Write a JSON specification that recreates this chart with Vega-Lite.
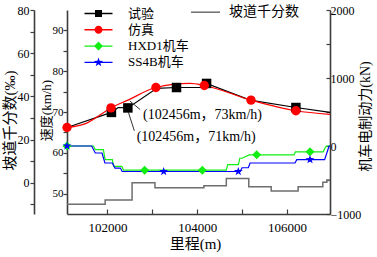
{
  "$schema": "https://vega.github.io/schema/vega-lite/v6.json",
  "width": 263,
  "height": 204,
  "autosize": "none",
  "padding": {"left": 67, "top": 10, "right": 47, "bottom": 43},
  "config": {
    "font": "Liberation Serif, Noto Sans CJK SC",
    "view": {"stroke": null},
    "axis": {
      "grid": false,
      "labelFont": "Liberation Serif, Noto Sans CJK SC",
      "labelFontSize": 12,
      "labelColor": "#000000",
      "titleFont": "Liberation Serif, Noto Sans CJK SC",
      "titleFontWeight": "normal",
      "titleColor": "#000000",
      "titleFontSize": 14,
      "domainColor": "#3c3c3c",
      "domainWidth": 1.6,
      "tickColor": "#3c3c3c",
      "tickWidth": 1.2
    },
    "legend": {
      "labelFont": "Liberation Serif, Noto Sans CJK SC",
      "labelColor": "#000000"
    }
  },
  "datasets": {
    "grade": [
      {"m": 101100, "g": -10, "series": "坡道千分数"},
      {"m": 101950, "g": -8, "series": "坡道千分数"},
      {"m": 102550, "g": 0, "series": "坡道千分数"},
      {"m": 103060, "g": -2.3, "series": "坡道千分数"},
      {"m": 104150, "g": -1.4, "series": "坡道千分数"},
      {"m": 104650, "g": 2.0, "series": "坡道千分数"},
      {"m": 105150, "g": -1.9, "series": "坡道千分数"},
      {"m": 105650, "g": -3.9, "series": "坡道千分数"},
      {"m": 106250, "g": -1.9, "series": "坡道千分数"},
      {"m": 106800, "g": 0.2, "series": "坡道千分数"},
      {"m": 106890, "g": 1.3, "series": "坡道千分数"},
      {"m": 106960, "g": 1.3, "series": "坡道千分数"}
    ],
    "speed": [
      {"m": 101100, "v": 66.2, "series": "试验"},
      {"m": 102090, "v": 69.9, "series": "试验"},
      {"m": 102240, "v": 71.1, "series": "试验"},
      {"m": 102456, "v": 71.0, "series": "试验"},
      {"m": 103100, "v": 75.8, "series": "试验"},
      {"m": 103540, "v": 76.0, "series": "试验"},
      {"m": 104140, "v": 76.0, "series": "试验"},
      {"m": 104210, "v": 77.0, "series": "试验"},
      {"m": 105180, "v": 72.9, "series": "试验"},
      {"m": 106200, "v": 71.1, "series": "试验"},
      {"m": 106960, "v": 69.9, "series": "试验"},
      {"m": 101100, "v": 66.2, "series": "仿真"},
      {"m": 101500, "v": 67.1, "series": "仿真"},
      {"m": 102080, "v": 71.0, "series": "仿真"},
      {"m": 102456, "v": 72.9, "series": "仿真"},
      {"m": 103080, "v": 76.0, "series": "仿真"},
      {"m": 103840, "v": 77.0, "series": "仿真"},
      {"m": 104160, "v": 76.5, "series": "仿真"},
      {"m": 105200, "v": 72.9, "series": "仿真"},
      {"m": 106200, "v": 70.3, "series": "仿真"},
      {"m": 106960, "v": 69.4, "series": "仿真"}
    ],
    "speed_marks": [
      {"m": 102090, "v": 69.9, "series": "试验"},
      {"m": 102456, "v": 71.0, "series": "试验"},
      {"m": 103540, "v": 76.0, "series": "试验"},
      {"m": 104210, "v": 77.0, "series": "试验"},
      {"m": 106200, "v": 71.1, "series": "试验"},
      {"m": 101100, "v": 66.2, "series": "仿真"},
      {"m": 102080, "v": 71.0, "series": "仿真"},
      {"m": 103080, "v": 76.0, "series": "仿真"},
      {"m": 104160, "v": 76.5, "series": "仿真"},
      {"m": 105200, "v": 72.9, "series": "仿真"},
      {"m": 106200, "v": 70.3, "series": "仿真"}
    ],
    "force": [
      {"m": 101100, "f": 0, "series": "HXD1机车"},
      {"m": 101690, "f": 0, "series": "HXD1机车"},
      {"m": 101730, "f": -54, "series": "HXD1机车"},
      {"m": 101910, "f": -54, "series": "HXD1机车"},
      {"m": 101950, "f": -201, "series": "HXD1机车"},
      {"m": 102110, "f": -201, "series": "HXD1机车"},
      {"m": 102140, "f": -299, "series": "HXD1机车"},
      {"m": 102320, "f": -299, "series": "HXD1机车"},
      {"m": 102360, "f": -355, "series": "HXD1机车"},
      {"m": 104650, "f": -355, "series": "HXD1机车"},
      {"m": 104680, "f": -275, "series": "HXD1机车"},
      {"m": 104920, "f": -275, "series": "HXD1机车"},
      {"m": 104950, "f": -180, "series": "HXD1机车"},
      {"m": 105000, "f": -180, "series": "HXD1机车"},
      {"m": 105160, "f": -130, "series": "HXD1机车"},
      {"m": 106160, "f": -130, "series": "HXD1机车"},
      {"m": 106190, "f": -85, "series": "HXD1机车"},
      {"m": 106810, "f": -85, "series": "HXD1机车"},
      {"m": 106850, "f": -30, "series": "HXD1机车"},
      {"m": 106880, "f": 0, "series": "HXD1机车"},
      {"m": 106960, "f": 0, "series": "HXD1机车"},
      {"m": 101100, "f": 0, "series": "SS4B机车"},
      {"m": 101650, "f": 0, "series": "SS4B机车"},
      {"m": 101730, "f": -103, "series": "SS4B机车"},
      {"m": 101880, "f": -103, "series": "SS4B机车"},
      {"m": 101945, "f": -250, "series": "SS4B机车"},
      {"m": 102110, "f": -250, "series": "SS4B机车"},
      {"m": 102170, "f": -324, "series": "SS4B机车"},
      {"m": 102290, "f": -324, "series": "SS4B机车"},
      {"m": 102330, "f": -375, "series": "SS4B机车"},
      {"m": 104960, "f": -375, "series": "SS4B机车"},
      {"m": 105000, "f": -320, "series": "SS4B机车"},
      {"m": 105140, "f": -320, "series": "SS4B机车"},
      {"m": 105180, "f": -250, "series": "SS4B机车"},
      {"m": 106180, "f": -250, "series": "SS4B机车"},
      {"m": 106220, "f": -200, "series": "SS4B机车"},
      {"m": 106840, "f": -200, "series": "SS4B机车"},
      {"m": 106940, "f": 0, "series": "SS4B机车"},
      {"m": 106960, "f": 0, "series": "SS4B机车"}
    ],
    "force_marks": [
      {"m": 101100, "f": 0, "series": "HXD1机车"},
      {"m": 102830, "f": -355, "series": "HXD1机车"},
      {"m": 104115, "f": -355, "series": "HXD1机车"},
      {"m": 105326, "f": -130, "series": "HXD1机车"},
      {"m": 106514, "f": -85, "series": "HXD1机车"},
      {"m": 101100, "f": 0, "series": "SS4B机车"},
      {"m": 103254, "f": -375, "series": "SS4B机车"},
      {"m": 104917, "f": -375, "series": "SS4B机车"},
      {"m": 106514, "f": -200, "series": "SS4B机车"}
    ],
    "leaders": [
      {"m": 102500, "v": 72.7, "m2": 102730, "v2": 70.6},
      {"m": 102466, "v": 70.0, "m2": 102600, "v2": 65.4}
    ],
    "notes": [
      {"m": 102793, "v": 69.3, "label": "(102456m，73km/h)"},
      {"m": 102653, "v": 63.9, "label": "(102456m，71km/h)"}
    ]
  },
  "encoding": {
    "x": {
      "field": "m",
      "type": "quantitative",
      "scale": {"domain": [101100, 106960], "nice": false, "zero": false},
      "axis": {
        "values": [102000, 103000, 104000, 105000, 106000],
        "format": "d",
        "labelExpr": "datum.value % 2000 === 0 ? datum.label : ''",
        "labelFontSize": 13,
        "tickSize": -5,
        "labelPadding": 12,
        "title": "里程(m)",
        "titleFontSize": 15,
        "titleX": 128,
        "titleY": 29,
        "titleAlign": "center",
        "titleBaseline": "middle"
      }
    }
  },
  "layer": [
    {
      "data": {"name": "grade"},
      "mark": {"type": "line", "interpolate": "step-after", "strokeWidth": 1.5},
      "encoding": {
        "y": {
          "field": "g",
          "type": "quantitative",
          "scale": {"domain": [-14.5, 80], "nice": false, "zero": false},
          "axis": {
            "orient": "left",
            "offset": 33,
            "values": [-10, 0, 10, 20, 30, 40, 50, 60, 70, 80],
            "labelExpr": "datum.value % 20 === 0 ? datum.label : ''",
            "tickSize": 4,
            "labelPadding": 1,
            "title": "坡道千分数(‰)",
            "titleFontSize": 15,
            "titleX": -25,
            "titleY": 110,
            "titleAngle": 270,
            "titleAlign": "center",
            "titleBaseline": "middle"
          }
        },
        "stroke": {
          "field": "series",
          "type": "nominal",
          "scale": {"domain": ["坡道千分数"], "range": ["#6e6e6e"]},
          "legend": {
            "orient": "none",
            "legendX": 131.5,
            "legendY": -4.8,
            "title": null,
            "padding": 0,
            "symbolSize": 4,
            "symbolStrokeWidth": 0,
            "labelFontSize": 14,
            "labelOffset": 16.5,
            "encode": {
              "symbols": {
                "update": {
                  "shape": {"value": "M-14.5,-0.75L14.5,-0.75L14.5,0.75L-14.5,0.75Z"},
                  "fill": {"value": "#6e6e6e"},
                  "strokeWidth": {"value": 0},
                  "opacity": {"value": 1}
                }
              }
            }
          }
        }
      }
    },
    {
      "encoding": {
        "y": {
          "field": "f",
          "type": "quantitative",
          "scale": {"domain": [-1000, 2000], "nice": false, "zero": false},
          "axis": {
            "orient": "right",
            "values": [-1000, -500, 0, 500, 1000, 1500, 2000],
            "format": "d",
            "labelExpr": "datum.value % 1000 === 0 ? datum.label : ''",
            "tickSize": -4,
            "labelPadding": 4,
            "title": "机车电制动力(kN)",
            "titleX": 35,
            "titleY": 106,
            "titleAngle": 270,
            "titleAlign": "center",
            "titleBaseline": "middle"
          }
        }
      },
      "layer": [
        {
          "data": {"name": "force"},
          "mark": {"type": "line", "strokeWidth": 1.2},
          "encoding": {
            "color": {
              "field": "series",
              "type": "nominal",
              "scale": {"domain": ["试验", "仿真", "HXD1机车", "SS4B机车"], "range": ["#000000", "#ff0000", "#11ee11", "#0000ff"]}
            }
          }
        },
        {
          "data": {"name": "force_marks"},
          "mark": {"type": "point", "filled": true, "opacity": 1},
          "encoding": {
            "color": {
              "field": "series",
              "type": "nominal",
              "scale": {"domain": ["试验", "仿真", "HXD1机车", "SS4B机车"], "range": ["#000000", "#ff0000", "#11ee11", "#0000ff"]}
            },
            "shape": {
              "field": "series",
              "type": "nominal",
              "scale": {"range": ["diamond", "M0,-1L0.235,-0.324L0.951,-0.309L0.38,0.124L0.588,0.809L0,0.4L-0.588,0.809L-0.38,0.124L-0.951,-0.309L-0.235,-0.324Z", "circle", "square"]},
              "legend": null
            },
            "size": {
              "field": "series",
              "type": "nominal",
              "scale": {"range": [81, 90, 69, 49]},
              "legend": null
            }
          }
        }
      ]
    },
    {
      "encoding": {
        "y": {
          "field": "v",
          "type": "quantitative",
          "scale": {"domain": [45, 95], "nice": false, "zero": false},
          "axis": {
            "orient": "left",
            "values": [50, 55, 60, 65, 70, 75, 80, 85, 90],
            "labelExpr": "datum.value % 10 === 0 ? datum.label : ''",
            "labelFontSize": 11,
            "tickSize": 4,
            "labelPadding": 0,
            "title": "速度(km/h)",
            "titleFontSize": 13,
            "titleX": -21,
            "titleY": 100,
            "titleAngle": 270,
            "titleAlign": "center",
            "titleBaseline": "middle"
          }
        }
      },
      "layer": [
        {
          "data": {"name": "speed"},
          "transform": [{"filter": "datum.series === '试验'"}],
          "mark": {"type": "line", "strokeWidth": 1.2},
          "encoding": {
            "color": {
              "field": "series",
              "type": "nominal",
              "scale": {"domain": ["试验", "仿真", "HXD1机车", "SS4B机车"], "range": ["#000000", "#ff0000", "#11ee11", "#0000ff"]},
              "legend": {
                "orient": "none",
                "legendX": 25,
                "legendY": -3,
                "title": null,
                "padding": 0,
                "symbolSize": 4,
                "symbolStrokeWidth": 0,
                "labelFontSize": 13,
                "labelOffset": 23,
                "rowPadding": 2.3,
                "encode": {
                  "symbols": {
                    "update": {
                      "shape": {"signal": "datum.value === '试验' ? 'M-14,-0.7L14,-0.7L14,0.7L-14,0.7ZM-3.5,-3.5L3.5,-3.5L3.5,3.5L-3.5,3.5Z' : datum.value === '仿真' ? 'M-14,-0.7L14,-0.7L14,0.7L-14,0.7ZM4,0A4,4,0,1,1,-4,0A4,4,0,1,1,4,0Z' : datum.value === 'HXD1机车' ? 'M-14,-0.7L14,-0.7L14,0.7L-14,0.7ZM0,-4.5L4.5,0L0,4.5L-4.5,0Z' : 'M-14,-0.7L14,-0.7L14,0.7L-14,0.7ZM0,-4.8L1.13,-1.56L4.57,-1.48L1.82,0.6L2.82,3.88L0,1.92L-2.82,3.88L-1.82,0.6L-4.57,-1.48L-1.13,-1.56Z'"},
                      "fill": {"scale": "color", "field": "value"},
                      "strokeWidth": {"value": 0},
                      "opacity": {"value": 1}
                    }
                  }
                }
              }
            }
          }
        },
        {
          "data": {"name": "speed"},
          "transform": [{"filter": "datum.series === '仿真'"}],
          "mark": {"type": "line", "interpolate": "monotone", "strokeWidth": 1.2},
          "encoding": {
            "color": {
              "field": "series",
              "type": "nominal",
              "scale": {"domain": ["试验", "仿真", "HXD1机车", "SS4B机车"], "range": ["#000000", "#ff0000", "#11ee11", "#0000ff"]}
            }
          }
        },
        {
          "data": {"name": "speed_marks"},
          "mark": {"type": "point", "filled": true, "opacity": 1},
          "encoding": {
            "color": {
              "field": "series",
              "type": "nominal",
              "scale": {"domain": ["试验", "仿真", "HXD1机车", "SS4B机车"], "range": ["#000000", "#ff0000", "#11ee11", "#0000ff"]}
            },
            "shape": {
              "field": "series",
              "type": "nominal",
              "scale": {"range": ["diamond", "M0,-1L0.235,-0.324L0.951,-0.309L0.38,0.124L0.588,0.809L0,0.4L-0.588,0.809L-0.38,0.124L-0.951,-0.309L-0.235,-0.324Z", "circle", "square"]},
              "legend": null
            },
            "size": {
              "field": "series",
              "type": "nominal",
              "scale": {"range": [81, 90, 69, 49]},
              "legend": null
            }
          }
        },
        {
          "data": {"name": "leaders"},
          "mark": {"type": "rule", "color": "#333333", "strokeWidth": 1},
          "encoding": {
            "x2": {"field": "m2"},
            "y2": {"field": "v2"}
          }
        },
        {
          "data": {"name": "notes"},
          "mark": {"type": "text", "align": "left", "baseline": "middle", "fontSize": 14, "color": "#000000", "font": "Liberation Serif, Noto Sans CJK SC"},
          "encoding": {
            "text": {"field": "label", "type": "nominal"}
          }
        }
      ]
    }
  ],
  "resolve": {"scale": {"y": "independent"}, "axis": {"y": "independent"}}
}
